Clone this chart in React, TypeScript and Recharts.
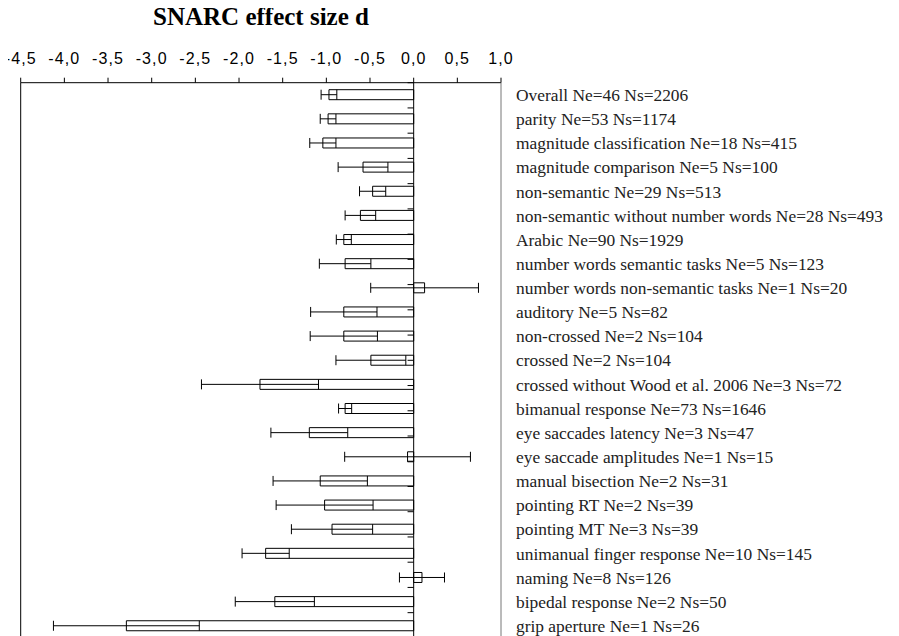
import { BarChart, Bar, XAxis, YAxis, ErrorBar, ReferenceLine } from "recharts";

// effect size d per condition, and half-length of the whisker
const labels = [
  "Overall Ne=46 Ns=2206",
  "parity Ne=53 Ns=1174",
  "magnitude classification Ne=18 Ns=415",
  "magnitude comparison Ne=5 Ns=100",
  "non-semantic Ne=29 Ns=513",
  "non-semantic without number words Ne=28 Ns=493",
  "Arabic Ne=90 Ns=1929",
  "number words semantic tasks Ne=5 Ns=123",
  "number words non-semantic tasks Ne=1 Ns=20",
  "auditory Ne=5 Ns=82",
  "non-crossed Ne=2 Ns=104",
  "crossed Ne=2 Ns=104",
  "crossed without Wood et al. 2006 Ne=3 Ns=72",
  "bimanual response Ne=73 Ns=1646",
  "eye saccades latency Ne=3 Ns=47",
  "eye saccade amplitudes Ne=1 Ns=15",
  "manual bisection Ne=2 Ns=31",
  "pointing RT Ne=2 Ns=39",
  "pointing MT Ne=3 Ns=39",
  "unimanual finger response Ne=10 Ns=145",
  "naming Ne=8 Ns=126",
  "bipedal response Ne=2 Ns=50",
  "grip aperture Ne=1 Ns=26",
];

const effect = [
  -0.97, -0.98, -1.04, -0.58, -0.47, -0.61, -0.8, -0.785, 0.125, -0.8, -0.8,
  -0.49, -1.76, -0.785, -1.195, -0.07, -1.07, -1.02, -0.935, -1.695, 0.095,
  -1.59, -3.29,
];

const whisker = [
  0.09, 0.09, 0.15, 0.285, 0.15, 0.175, 0.086, 0.295, 0.617, 0.38, 0.385, 0.4,
  0.67, 0.075, 0.44, 0.72, 0.54, 0.555, 0.465, 0.27, 0.258, 0.453, 0.835,
];

const xTicks = [-4.5, -4, -3.5, -3, -2.5, -2, -1.5, -1, -0.5, 0, 0.5, 1];

// row boundaries for the little ticks on the zero line
const rowEdges = [1, 2, 3, 4, 5, 6, 7, 8, 9, 10, 11, 12, 13, 14, 15, 16, 17, 18, 19, 20, 21, 22];

const data = labels.map((label, i) => ({ label, d: effect[i], err: whisker[i] }));

export default function App() {
  return (
    <div style={{ position: "relative", width: 899, height: 648, margin: "-8px 0 0 -8px" }}>
      <div
        style={{
          position: "absolute",
          left: 0,
          top: 4,
          width: 522,
          textAlign: "center",
          fontFamily: "Liberation Serif",
          fontWeight: "bold",
          fontSize: 25,
          lineHeight: "25px",
        }}
      >
        SNARC effect size d
      </div>
      <BarChart
        width={899}
        height={648}
        data={data}
        layout="vertical"
        margin={{ top: 52.7, right: 8, bottom: 10.1, left: 20.7 }}
      >
        <XAxis
          type="number"
          orientation="top"
          domain={[-4.5, 1]}
          ticks={xTicks}
          interval={0}
          allowDataOverflow
          height={30}
          tickSize={5}
          tickMargin={14}
          tickFormatter={(v: number) => v.toFixed(1).replace(".", ",")}
          axisLine={{ stroke: "#000" }}
          tickLine={{ stroke: "#000" }}
          tick={{ fill: "#000", fontSize: 16, fontFamily: "Liberation Sans", letterSpacing: 1.1 }}
        />
        <YAxis
          type="category"
          dataKey="label"
          orientation="right"
          width={390}
          interval={0}
          tickLine={false}
          tickMargin={9}
          axisLine={{ stroke: "#777" }}
          tick={{ fill: "#222", fontSize: 17.4, fontFamily: "Liberation Serif", textAnchor: "start" }}
        />
        <YAxis yAxisId="rows" type="number" domain={[0, 23]} reversed hide />
        <ReferenceLine x={-4.5} stroke="#000" />
        {rowEdges.map((r) => (
          <ReferenceLine
            key={r}
            yAxisId="rows"
            segment={[
              { x: -0.07, y: r },
              { x: 0, y: r },
            ]}
            stroke="#000"
          />
        ))}
        <Bar dataKey="d" fill="#fff" stroke="#000" strokeWidth={1} barSize={10} isAnimationActive={false}>
          <ErrorBar dataKey="err" direction="x" width={5} stroke="#000" strokeWidth={1} />
        </Bar>
        <ReferenceLine x={0} stroke="#000" />
      </BarChart>
    </div>
  );
}
